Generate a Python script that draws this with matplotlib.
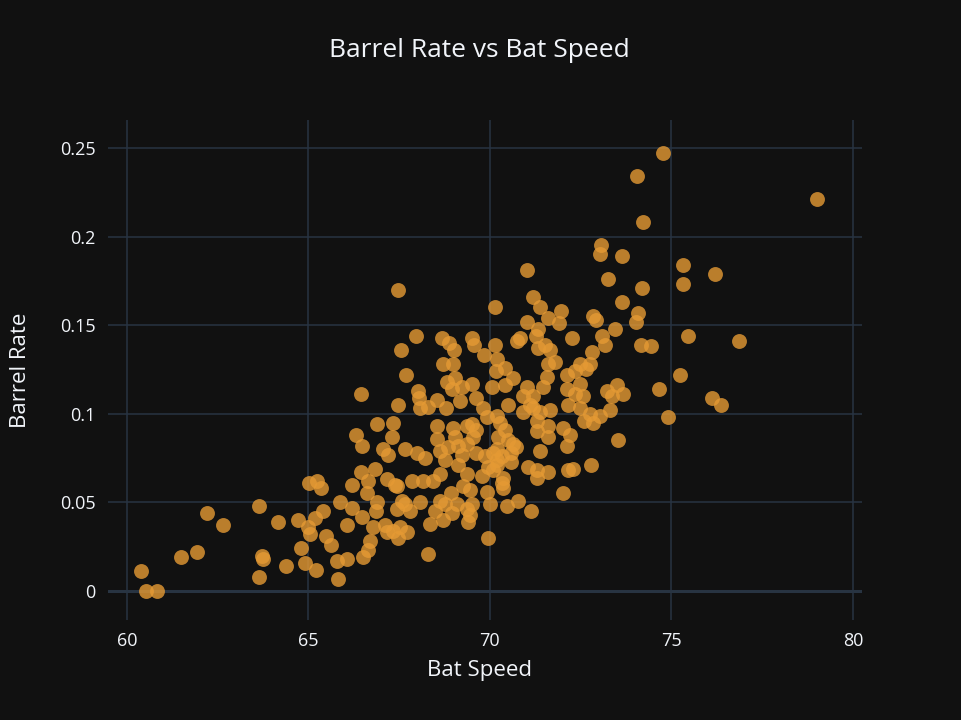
import matplotlib
matplotlib.use("Agg")
import matplotlib.pyplot as plt

# bat speed (mph) and barrel rate
bat_speed = [
    60.38, 60.54, 60.82, 61.48, 61.94, 62.21, 62.65, 63.63, 63.71, 63.74,
    63.64, 64.17, 64.38, 64.72, 64.80, 64.91, 65.02, 65.24, 65.34, 65.39,
    65.18, 64.98, 65.04, 65.48, 65.61, 65.21, 65.78, 65.82, 65.87,
    67.96, 67.56, 67.69, 66.44, 67.47, 68.68, 68.88, 69.01, 69.52, 69.56,
    68.71, 68.99, 69.84, 70.14, 70.19, 68.81, 69.04, 68.95, 69.22, 69.50,
    68.02, 68.05, 68.30, 68.53, 68.07, 68.79, 69.17, 69.61, 69.82, 69.91,
    70.06, 67.34, 67.29, 66.88, 66.31, 66.48, 68.53, 68.55, 68.99, 69.04,
    69.36, 69.50, 69.54, 69.36, 69.63, 67.06, 67.20, 67.66, 67.98, 68.21,
    68.62, 68.76, 68.85, 69.13, 69.22, 69.63, 69.86, 70.09, 70.19, 69.13,
    69.36, 69.77, 69.95, 70.09, 70.19, 66.44, 66.83, 66.19, 66.65, 67.17,
    67.38, 67.84, 68.16, 68.44, 68.62, 69.27, 69.45, 69.91, 68.92, 66.62,
    67.43, 67.57, 67.66, 66.88, 66.86, 68.07, 67.80, 67.43, 66.19, 66.48,
    66.07, 66.79, 67.11, 67.34, 67.52, 67.71, 67.47, 67.17, 68.62, 68.76,
    69.08, 69.50, 70.00, 69.36, 69.45, 68.49, 68.95, 68.71, 68.35, 69.40,
    69.95, 66.69, 66.65, 66.51, 66.05, 68.30,
    71.03, 71.19, 71.38, 70.14, 71.01, 71.61, 71.95, 71.91, 73.03, 73.63,
    73.26, 74.18, 73.63, 74.09, 74.02, 72.83, 72.92, 73.44, 72.25, 71.33,
    71.27, 70.83, 70.74, 73.08, 73.17, 74.15, 74.45, 70.41, 70.17, 71.33,
    71.52, 71.65, 71.61, 71.79, 72.80, 72.76, 72.48, 72.34, 72.11, 72.66,
    70.64, 70.41, 71.56, 71.47, 71.01, 70.92, 71.19, 71.10, 70.50, 72.48,
    72.11, 72.34, 72.57, 72.16, 73.22, 73.49, 73.67, 73.35, 73.31, 74.65,
    71.65, 71.38, 70.92, 71.19, 70.19, 72.48, 72.76, 73.03,
    71.29, 72.59, 72.85, 70.27, 70.41, 70.23, 70.50, 70.64, 70.73, 71.29,
    71.61, 71.61, 72.02, 72.20, 72.11, 73.54, 71.38, 70.19, 70.32, 70.59,
    70.59, 71.06, 71.29, 71.29, 71.61, 72.16, 72.30, 72.78, 70.37, 70.32,
    70.37, 72.00, 70.78, 70.46, 71.12,
    74.78, 74.04, 79.00, 74.22, 73.06, 75.33, 75.33, 76.20, 75.45, 76.86,
    75.24, 76.11, 76.36, 74.91, 67.47,
]

barrel_rate = [
    0.011, 0.000, 0.000, 0.019, 0.022, 0.044, 0.037, 0.048, 0.020, 0.018,
    0.008, 0.039, 0.014, 0.040, 0.024, 0.016, 0.061, 0.062, 0.058, 0.045,
    0.041, 0.036, 0.032, 0.031, 0.026, 0.012, 0.017, 0.007, 0.050,
    0.144, 0.136, 0.122, 0.111, 0.105, 0.143, 0.140, 0.136, 0.143, 0.139,
    0.128, 0.128, 0.133, 0.139, 0.131, 0.118, 0.120, 0.114, 0.115, 0.117,
    0.113, 0.109, 0.104, 0.108, 0.103, 0.103, 0.107, 0.109, 0.103, 0.098,
    0.115, 0.095, 0.087, 0.094, 0.088, 0.082, 0.093, 0.086, 0.092, 0.087,
    0.093, 0.094, 0.087, 0.083, 0.091, 0.080, 0.077, 0.080, 0.078, 0.075,
    0.079, 0.074, 0.081, 0.082, 0.077, 0.078, 0.076, 0.078, 0.074, 0.071,
    0.066, 0.065, 0.070, 0.068, 0.071, 0.067, 0.069, 0.060, 0.062, 0.063,
    0.060, 0.062, 0.062, 0.062, 0.066, 0.059, 0.057, 0.056, 0.055, 0.055,
    0.059, 0.051, 0.049, 0.050, 0.045, 0.050, 0.045, 0.046, 0.047, 0.042,
    0.037, 0.036, 0.037, 0.034, 0.036, 0.033, 0.030, 0.033, 0.051, 0.049,
    0.049, 0.049, 0.049, 0.046, 0.043, 0.045, 0.044, 0.040, 0.038, 0.039,
    0.030, 0.028, 0.023, 0.019, 0.018, 0.021,
    0.181, 0.166, 0.160, 0.160, 0.152, 0.154, 0.158, 0.151, 0.190, 0.189,
    0.176, 0.171, 0.163, 0.157, 0.152, 0.155, 0.153, 0.148, 0.143, 0.148,
    0.144, 0.143, 0.141, 0.144, 0.139, 0.139, 0.138, 0.126, 0.124, 0.137,
    0.139, 0.136, 0.128, 0.129, 0.135, 0.128, 0.128, 0.124, 0.122, 0.125,
    0.120, 0.116, 0.121, 0.115, 0.115, 0.110, 0.110, 0.105, 0.105, 0.117,
    0.114, 0.111, 0.110, 0.105, 0.113, 0.116, 0.111, 0.110, 0.102, 0.114,
    0.102, 0.101, 0.101, 0.103, 0.099, 0.103, 0.100, 0.099,
    0.096, 0.096, 0.095, 0.095, 0.091, 0.087, 0.085, 0.083, 0.081, 0.090,
    0.093, 0.087, 0.092, 0.088, 0.082, 0.085, 0.079, 0.080, 0.076, 0.078,
    0.073, 0.070, 0.068, 0.064, 0.067, 0.068, 0.069, 0.071, 0.064, 0.061,
    0.058, 0.055, 0.051, 0.048, 0.045,
    0.247, 0.234, 0.221, 0.208, 0.195, 0.184, 0.173, 0.179, 0.144, 0.141,
    0.122, 0.109, 0.105, 0.098, 0.170,
]

x_ticks = [60, 65, 70, 75, 80]
y_ticks = [0, 0.05, 0.1, 0.15, 0.2, 0.25]
y_tick_labels = ["0", "0.05", "0.1", "0.15", "0.2", "0.25"]

bg = "#111111"
grid = "#283442"
txt = "#f2f5fa"

plt.rcParams["font.family"] = ["Open Sans", "DejaVu Sans"]

fig = plt.figure(figsize=(9.61, 7.2), dpi=100, facecolor=bg)
ax = fig.add_axes([0.1124, 0.1389, 0.7846, 0.6944], facecolor=bg)

ax.scatter(bat_speed, barrel_rate, s=115, color="#e59a34", alpha=0.8,
           linewidths=0, zorder=3)

ax.set_xlim(59.48, 80.25)
ax.set_ylim(-0.0164, 0.2658)
ax.set_xticks(x_ticks)
ax.set_yticks(y_ticks)
ax.set_yticklabels(y_tick_labels)
ax.grid(True, color=grid, linewidth=1.1, zorder=0)
ax.axhline(0, color=grid, linewidth=2.2, zorder=1)
for s in ax.spines.values():
    s.set_visible(False)
ax.tick_params(colors=txt, labelsize=13, length=0, pad=9)

fig.text(0.4985, 0.93, "Barrel Rate vs Bat Speed", color=txt, fontsize=19,
         ha="center", va="center")
fig.text(0.499, 0.069, "Bat Speed", color=txt, fontsize=16,
         ha="center", va="center")
fig.text(0.021, 0.486, "Barrel Rate", color=txt, fontsize=16,
         ha="center", va="center", rotation=90)

fig.savefig("out.png", dpi=100, facecolor=bg)
